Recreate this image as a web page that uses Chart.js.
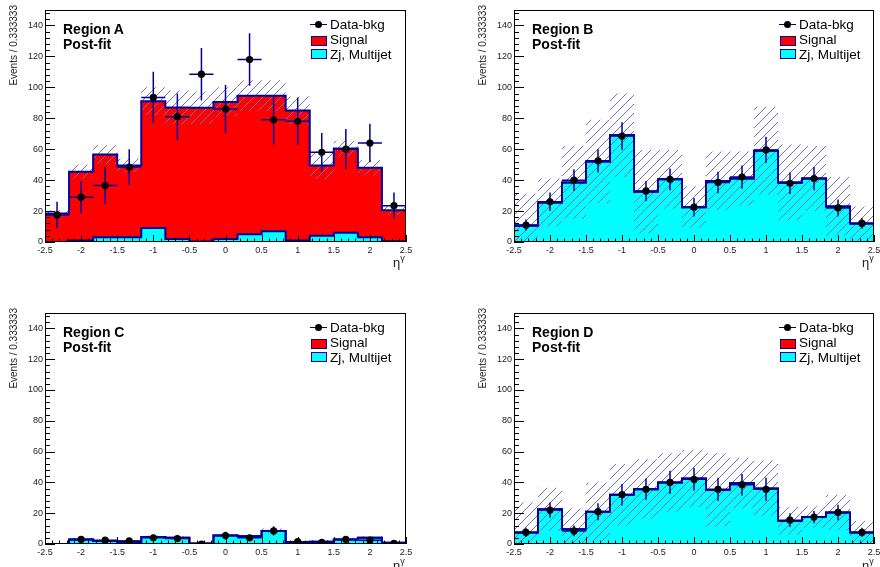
<!DOCTYPE html>
<html><head><meta charset="utf-8">
<script src="https://cdn.jsdelivr.net/npm/chart.js@4.4.0/dist/chart.umd.min.js"></script>
<style>
html,body{margin:0;padding:0;background:#fff;}
#wrap{position:relative;width:880px;height:567px;overflow:hidden;font-family:"Liberation Sans",Arial,sans-serif;}
canvas{position:absolute;left:0;top:0;}
.t{position:absolute;white-space:nowrap;color:#000;}
</style></head><body><div id="wrap"></div>
<script>
// ---- data ----
const binEdges   = [-2.5, -2.1667, -1.8333, -1.5, -1.1667, -0.8333, -0.5, -0.1667, 0.1667, 0.5, 0.8333, 1.1667, 1.5, 1.8333, 2.1667, 2.5];
const binCenters = [-2.3333, -2.0, -1.6667, -1.3333, -1.0, -0.6667, -0.3333, 0.0, 0.3333, 0.6667, 1.0, 1.3333, 1.6667, 2.0, 2.3333];
const xTickValues = [-2.5, -2, -1.5, -1, -0.5, 0, 0.5, 1, 1.5, 2, 2.5];
const yTickValues = [0, 20, 40, 60, 80, 100, 120, 140];

// Region A
const bkgA  = [0, 1, 3, 3, 9, 2, 0.3, 2, 5, 7, 1, 4, 6, 3, 0.5];
const sigA  = [18.5, 44.5, 53.5, 46.5, 82, 85, 86.5, 88.5, 89.5, 87.5, 84, 45.5, 54.5, 45, 20];
const dataA = [17.5, 29, 36.5, 48.5, 93.5, 81, 108.5, 86, 118, 79, 78, 58, 60, 64, 23.5];
const errA  = [8.5, 10.5, 12, 11.5, 16.5, 15, 17, 15.5, 17, 16, 15.5, 12.5, 13, 12.5, 8.5];
const bandA = [2, 4.5, 6, 4.5, 9, 11, 10.5, 9.5, 10, 10, 9, 9, 5, 5, 3];
// Region B
const bkgB  = [10.5, 25.5, 38.5, 52, 69, 32.5, 40.5, 22.5, 39.5, 41, 59, 38.5, 41, 23, 12];
const sigB  = [0, 0, 0, 0, 0, 0, 0, 0, 0, 0, 0, 0, 0, 0, 0];
const dataB = [11, 26, 40, 52.5, 68.5, 33, 40.5, 22.5, 38.5, 42, 59.5, 38, 41, 22, 12];
const errB  = [3.5, 6, 7, 7.5, 9, 6.5, 7, 6, 7, 7.5, 8.5, 7, 7.5, 5.5, 3.5];
const bandB = [20.5, 15.5, 23.5, 27, 27, 27, 19, 13.5, 19, 17.5, 28.5, 24.5, 21, 19, 11];
// Region C
const bkgC  = [0, 3, 2, 1.5, 4.5, 4, 0.3, 5.5, 5, 8.5, 1, 1.5, 3, 4, 0.8];
const sigC  = [0, 0, 0, 0, 0, 0, 0, 0, 0, 0, 0, 0, 0, 0, 0];
const dataC = [null, 3, 2.5, 2, 4, 3.5, 0, 5.5, 4, 8.5, 1.5, 1, 3, 2.5, 0.5];
const errC  = [0, 1.5, 1.5, 1.5, 2, 2, 1, 2.5, 2, 3, 1.2, 1, 1.5, 1.5, 1];
const bandC = [0, 1, 1, 1, 1, 1, 0.5, 1, 1, 1.5, 0.5, 0.5, 1, 1, 0.5];
// Region D
const bkgD  = [7.5, 22.5, 9.5, 21, 32, 35.5, 40, 42.5, 35, 39.5, 36, 15, 17.5, 20.5, 7.5];
const sigD  = [0, 0, 0, 0, 0, 0, 0, 0, 0, 0, 0, 0, 0, 0, 0];
const dataD = [7.5, 22, 8.5, 21, 32, 35.5, 40, 42, 35.5, 38.5, 35.5, 15.5, 17.5, 20.5, 7.5];
const errD  = [3, 5, 3.5, 5.5, 7, 7, 7.5, 7.5, 7.5, 7, 7.5, 4.5, 4, 5, 3];
const bandD = [19.5, 14, 13.5, 19, 20, 19.5, 19, 18.5, 24, 16.5, 18, 9, 7, 11.5, 7.5];

const legendLabels = ['Data-bkg', 'Signal', 'Zj, Multijet'];
const yTitle = 'Events / 0.333333';

// ---- style ----
const NAVY = '#000099';
const HATCH = '#7070bc';
const FONT = '"Liberation Sans", Arial, sans-serif';

const panels = [
  {name:'Region A', bkg:bkgA, sig:sigA, data:dataA, err:errA, band:bandA, area:[45,10,406,242], off:[0,0]},
  {name:'Region B', bkg:bkgB, sig:sigB, data:dataB, err:errB, band:bandB, area:[514,10,874,242], off:[469,0]},
  {name:'Region C', bkg:bkgC, sig:sigC, data:dataC, err:errC, band:bandC, area:[45,313,406,544], off:[0,303]},
  {name:'Region D', bkg:bkgD, sig:sigD, data:dataD, err:errD, band:bandD, area:[514,313,874,544], off:[469,303]},
];

const wrap = document.getElementById('wrap');

function stepPoints(vals){
  const pts = vals.map((v,i)=>({x:binEdges[i], y:v}));
  pts.push({x:binEdges[binEdges.length-1], y:vals[vals.length-1]});
  return pts;
}

const frameTicks = {
  id:'frameTicks',
  afterDraw(chart){
    const {ctx, chartArea:a, scales:{x, y}} = chart;
    ctx.save();
    ctx.strokeStyle = '#000';
    ctx.lineWidth = 1;
    ctx.beginPath();
    for (let i = 0; i <= 37; i++){
      const v = i*4;
      const py = Math.round(y.getPixelForValue(v)) + 0.5;
      const len = (v % 20 === 0) ? 10 : 5;
      ctx.moveTo(a.left, py); ctx.lineTo(a.left + len, py);
    }
    for (let i = -25; i <= 25; i++){
      const px = Math.round(x.getPixelForValue(i/10)) + 0.5;
      const len = (i % 5 === 0) ? 7 : 3.5;
      ctx.moveTo(px, a.bottom); ctx.lineTo(px, a.bottom - len);
    }
    ctx.stroke();
    ctx.strokeRect(Math.round(a.left)+0.5, Math.round(a.top)+0.5, Math.round(a.right-a.left)-1, Math.round(a.bottom-a.top)-1);
    ctx.restore();
  }
};

function addText(html, style){
  const d = document.createElement('div');
  d.className = 't';
  d.innerHTML = html;
  Object.assign(d.style, style);
  wrap.appendChild(d);
  return d;
}

panels.forEach(p => {
  const cv = document.createElement('canvas');
  cv.width = 880; cv.height = 567;
  wrap.appendChild(cv);
  const ctx = cv.getContext('2d');

  // hatch pattern
  const S = 9;
  const hc = document.createElement('canvas');
  hc.width = S; hc.height = S;
  const hg = hc.getContext('2d');
  hg.strokeStyle = HATCH; hg.lineWidth = 1;
  hg.beginPath();
  hg.moveTo(0,S); hg.lineTo(S,0);
  hg.moveTo(-2,2); hg.lineTo(2,-2);
  hg.moveTo(S-2,S+2); hg.lineTo(S+2,S-2);
  hg.stroke();
  const pattern = ctx.createPattern(hc, 'repeat');

  const total = p.bkg.map((b,i)=> b + p.sig[i]);
  const upper = total.map((t,i)=> t + p.band[i]);
  const lower = total.map((t,i)=> Math.max(0, t - p.band[i]));

  const dataPts = [];
  const errPts = [];
  p.data.forEach((v,i)=>{
    if (v === null) return;
    dataPts.push({x:binCenters[i], y:v});
    errPts.push({x:binCenters[i], y:Math.max(0, v - p.err[i])});
    errPts.push({x:binCenters[i], y:v + p.err[i]});
    errPts.push({x:binCenters[i], y:null});
    errPts.push({x:binEdges[i], y:v});
    errPts.push({x:binEdges[i+1], y:v});
    errPts.push({x:binCenters[i], y:null});
  });

  const T = 'rgba(0,0,0,0)';
  const [L, Tp, R, B] = p.area;
  const yW = 40, xH = 20;
  const ST = 'before';

  new Chart(ctx, {
    type:'line',
    data:{ datasets:[
      {data:dataPts, showLine:false, pointRadius:3.6, pointBackgroundColor:'#000', pointBorderWidth:0, borderColor:'#000', fill:false},
      {data:errPts, borderColor:NAVY, borderWidth:1.5, pointRadius:0, spanGaps:false, fill:false},
      {data:stepPoints(total), stepped:ST, borderColor:NAVY, borderWidth:2, pointRadius:0, fill:false},
      {data:stepPoints(p.bkg), stepped:ST, borderColor:NAVY, borderWidth:2, pointRadius:0, fill:false},
      {data:stepPoints(upper), stepped:ST, borderColor:T, borderWidth:0, pointRadius:0, fill:'+1', backgroundColor:pattern},
      {data:stepPoints(lower), stepped:ST, borderColor:T, borderWidth:0, pointRadius:0, fill:false},
      {data:stepPoints(total), stepped:ST, borderColor:T, borderWidth:0, pointRadius:0, fill:'+1', backgroundColor:'#ff0000'},
      {data:stepPoints(p.bkg), stepped:ST, borderColor:T, borderWidth:0, pointRadius:0, fill:'origin', backgroundColor:'#00ffff'},
    ]},
    options:{
      responsive:false, animation:false, devicePixelRatio:1, events:[],
      layout:{padding:{left:L - yW, top:Tp, right:880 - R, bottom:567 - B - xH}},
      plugins:{legend:{display:false}, tooltip:{enabled:false}},
      scales:{
        x:{type:'linear', min:-2.5, max:2.5,
           grid:{display:false, drawTicks:false}, border:{display:false},
           afterBuildTicks: s => { s.ticks = xTickValues.map(v=>({value:v})); },
           afterFit: s => { s.height = xH; s.paddingLeft = 0; s.paddingRight = 0; },
           ticks:{autoSkip:false, maxRotation:0, padding:3, color:'#222', font:{family:FONT, size:9},
                  callback: v => String(v)}},
        y:{type:'linear', min:0, max:150,
           grid:{display:false, drawTicks:false}, border:{display:false},
           afterBuildTicks: s => { s.ticks = yTickValues.map(v=>({value:v})); },
           afterFit: s => { s.width = yW; s.paddingTop = 0; s.paddingBottom = 0; },
           ticks:{autoSkip:false, padding:2, color:'#222', font:{family:FONT, size:9},
                  callback: v => String(v)}}
      }
    },
    plugins:[frameTicks]
  });

  const [ox, oy] = p.off;
  addText(p.name, {left:(63+ox)+'px', top:(21+oy)+'px', font:'bold 14px '+FONT, lineHeight:'16px'});
  addText('Post-fit', {left:(63+ox)+'px', top:(35.5+oy)+'px', font:'bold 14px '+FONT, lineHeight:'16px'});
  addText('', {left:(310+ox)+'px', top:(23.75+oy)+'px', width:'17px', height:'1.5px', background:NAVY});
  addText('', {left:(315+ox)+'px', top:(21+oy)+'px', width:'7px', height:'7px', borderRadius:'50%', background:'#000'});
  addText('', {left:(310.5+ox)+'px', top:(36+oy)+'px', width:'16px', height:'9.5px', boxSizing:'border-box', border:'1.3px solid '+NAVY, background:'#ff0000'});
  addText('', {left:(310.5+ox)+'px', top:(48.5+oy)+'px', width:'16px', height:'10px', boxSizing:'border-box', border:'1.3px solid '+NAVY, background:'#00ffff'});
  addText(legendLabels[0], {left:(330+ox)+'px', top:(16.5+oy)+'px', font:'13.5px '+FONT, lineHeight:'16px'});
  addText(legendLabels[1], {left:(330+ox)+'px', top:(32+oy)+'px', font:'13.5px '+FONT, lineHeight:'16px'});
  addText(legendLabels[2], {left:(330+ox)+'px', top:(47+oy)+'px', font:'13.5px '+FONT, lineHeight:'16px'});
  addText(yTitle, {left:(9+ox)+'px', top:(125+oy)+'px', width:'120px', textAlign:'right', font:'10px '+FONT, lineHeight:'10px', color:'#222', transformOrigin:'0 0', transform:'rotate(-90deg)'});
  addText('η<span style="font-size:9px;position:relative;top:-6px">γ</span>', {left:(393+ox)+'px', top:(256+oy)+'px', font:'13px '+FONT, lineHeight:'14px', color:'#222'});
});
</script>
</body></html>
